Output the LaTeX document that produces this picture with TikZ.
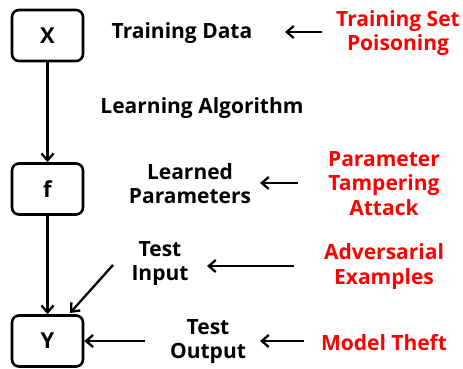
\documentclass[tikz,border=0pt]{standalone}
\usepackage{fontspec}
\setmainfont{Open Sans}
\usetikzlibrary{arrows.meta}
\begin{document}
\begin{tikzpicture}[x=1pt,y=-1pt,
  box/.style={draw,line width=2.6pt,rounded corners=7pt,minimum width=71pt,minimum height=51pt,font=\bfseries\fontsize{22}{22}\selectfont},
  lbl/.style={align=center,font=\bfseries\fontsize{21}{24.5}\selectfont},
  atk/.style={lbl,text=red},
  arr/.style={line width=2.3pt,-{Straight Barb[length=7pt,width=12pt,line width=2.3pt]}}]
\useasboundingbox (0,0) rectangle (463,368);
\node[box] (X) at (47.5,35.5) {X};
\node[box] (f) at (47.5,189) {f};
\node[box] (Y) at (47.5,341) {Y};
\node[lbl] (td) at (182,33.5) {Training Data};
\node[lbl] (la) at (202,108.5) {Learning Algorithm};
\node[lbl] (lp) at (190,183.5) {Learned\\Parameters};
\node[lbl] (ti) at (160,263.5) {Test\\Input};
\node[lbl] (to) at (208,341.5) {Test\\Output};
\node[atk] (tsp) at (398,33) {Training Set\\Poisoning};
\node[atk] (pta) at (384,183.5) {Parameter\\Tampering\\Attack};
\node[atk] (adv) at (384,266.5) {Adversarial\\Examples};
\node[atk] (mt) at (384,342.5) {Model Theft};
\coordinate (a1s) at (322,32); \coordinate (a1e) at (285,32);
\coordinate (a2s) at (298,183); \coordinate (a2e) at (260,183);
\coordinate (a3s) at (294,266); \coordinate (a3e) at (207,266);
\coordinate (a4s) at (304,341); \coordinate (a4e) at (260,341);
\coordinate (a5s) at (145,341);
\coordinate (dgs) at (113,265); \coordinate (dge) at (70,313);
\draw[arr] (a1s) -- (a1e);
\draw[arr] (a2s) -- (a2e);
\draw[arr] (a3s) -- (a3e);
\draw[arr] (a4s) -- (a4e);
\draw[arr] (a5s) -- (Y.east);
\draw[arr] (dgs) -- (dge);
\draw[arr] (X) -- (f);
\draw[arr] (f) -- (Y);
\end{tikzpicture}
\end{document}
